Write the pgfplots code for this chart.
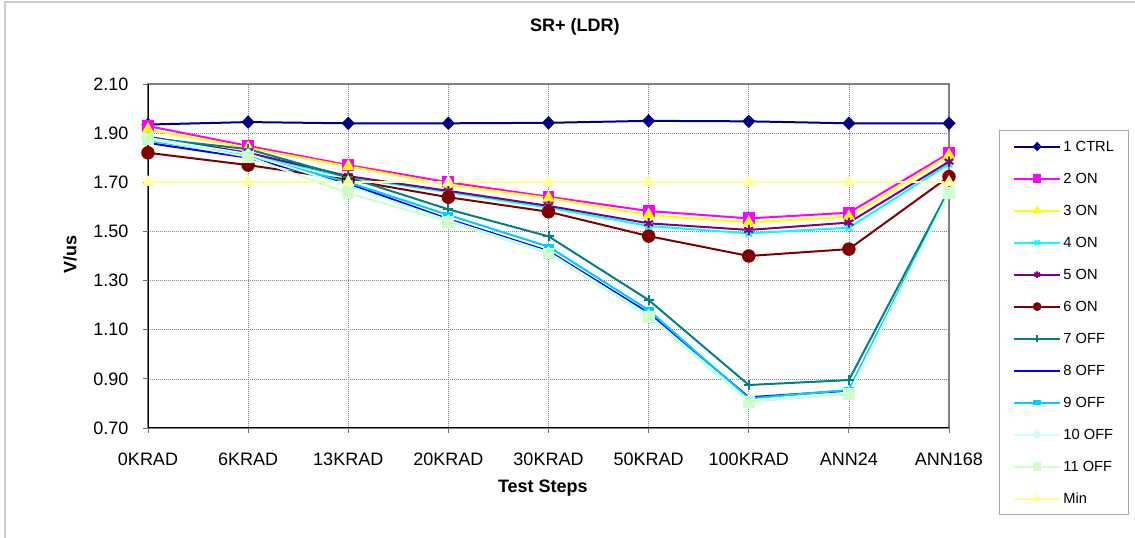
\documentclass[border=0pt]{standalone}
\usepackage{pgfplots}
\pgfplotsset{compat=1.18}
\usepackage{fontspec}
\setmainfont{Liberation Sans}
\definecolor{c1}{HTML}{000080}
\definecolor{c2}{HTML}{FF00FF}
\definecolor{c3}{HTML}{FFFF00}
\definecolor{c4}{HTML}{00FFFF}
\definecolor{c5}{HTML}{800080}
\definecolor{c6}{HTML}{800000}
\definecolor{c7}{HTML}{008080}
\definecolor{c8}{HTML}{0000FF}
\definecolor{c9}{HTML}{00CCFF}
\definecolor{c10}{HTML}{CCFFFF}
\definecolor{c11}{HTML}{CCFFCC}
\definecolor{cmin}{HTML}{FFFF99}
\begin{document}
\begin{tikzpicture}
\path[use as bounding box] (-111pt,-82.5pt) rectangle (740.25pt,321pt);
\draw[color=black!20, line width=1.2pt] (-107.25pt,-82.5pt) -- (-107.25pt,319.5pt) -- (740.25pt,319.5pt);
\begin{axis}[
  at={(0pt,0pt)}, anchor=south west,
  scale only axis, width=600.75pt, height=258pt,
  xmin=0, xmax=8, ymin=0.7, ymax=2.1,
  xtick={0,1,2,3,4,5,6,7,8},
  xticklabels={0KRAD,6KRAD,13KRAD,20KRAD,30KRAD,50KRAD,100KRAD,ANN24,ANN168},
  ytick={0.7,0.9,1.1,1.3,1.5,1.7,1.9,2.1},
  /pgf/number format/assume math mode=true,
  y tick label style={/pgf/number format/fixed, /pgf/number format/fixed zerofill, /pgf/number format/precision=2},
  tick label style={font=\fontsize{13.5}{16}\selectfont},
  xticklabel style={anchor=north, inner sep=0pt, yshift=-15pt},
  yticklabel style={anchor=east, inner sep=0pt, xshift=-11pt},
  tick pos=left, tick align=outside, major tick length=3.5pt,
  tick style={black!55, line width=0.6pt},
  grid=major,
  grid style={black!50, dash pattern=on 0.75pt off 0.75pt, line width=0.5pt},
  axis line style={black!50, line width=1.5pt},
  title={SR+ (LDR)},
  title style={at={(0.533,1.1424)}, anchor=center, inner sep=0pt, font=\bfseries\fontsize{13.5}{16}\selectfont},
  xlabel={Test Steps},
  xlabel style={at={(0.493,-0.174)}, anchor=center, inner sep=0pt, font=\bfseries\fontsize{13.5}{16}\selectfont},
  ylabel={V/us},
  ylabel style={at={(-0.0974,0.503)}, anchor=center, inner sep=0pt, font=\bfseries\fontsize{13.5}{16}\selectfont},
  every axis plot/.append style={line width=1.5pt},
  legend style={font=\fontsize{11}{13}\selectfont, at={(1.0624,0.866)}, anchor=north west,
    draw=black!35, line width=0.75pt, fill=white, inner xsep=10.5pt, inner ysep=6pt,
    row sep=12pt, column sep=2pt,
    nodes={inner sep=0pt, text height=9.9pt, text depth=2.1pt}},
  legend cell align=left,
  legend image code/.code={\draw[mark repeat=2,mark phase=2,#1] plot coordinates {(0pt,0pt) (17pt,0pt) (34pt,0pt)};},
  every legend image post/.style={mark size=2.5pt},
]
\draw[black, line width=1.2pt] (rel axis cs:0,1) -- (rel axis cs:0,0) -- (rel axis cs:1,0);
\addplot[c1, mark=diamond*, mark size=4pt, mark options={solid, fill=c1, xscale=1.3}] coordinates {
(0,1.935) (1,1.945) (2,1.940) (3,1.940) (4,1.942) (5,1.950) (6,1.948) (7,1.940) (8,1.940)};
\addlegendentry{1 CTRL}
\addplot[c2, mark=square*, mark size=3.7pt, mark options={solid, fill=c2}] coordinates {
(0,1.929) (1,1.848) (2,1.770) (3,1.700) (4,1.641) (5,1.583) (6,1.553) (7,1.576) (8,1.818)};
\addlegendentry{2 ON}
\addplot[c3, mark=triangle*, mark size=4pt, mark options={solid, fill=c3}] coordinates {
(0,1.915) (1,1.840) (2,1.765) (3,1.690) (4,1.636) (5,1.567) (6,1.536) (7,1.560) (8,1.810)};
\addlegendentry{3 ON}
\addplot[c4, mark=x, mark size=3.5pt, mark options={solid}] coordinates {
(0,1.875) (1,1.815) (2,1.720) (3,1.660) (4,1.597) (5,1.522) (6,1.492) (7,1.515) (8,1.775)};
\addlegendentry{4 ON}
\addplot[c5, mark=asterisk, mark size=3.8pt, mark options={solid}] coordinates {
(0,1.885) (1,1.820) (2,1.725) (3,1.665) (4,1.604) (5,1.533) (6,1.506) (7,1.536) (8,1.784)};
\addlegendentry{5 ON}
\addplot[c6, mark=*, mark size=4.3pt, mark options={solid, fill=c6}] coordinates {
(0,1.820) (1,1.770) (2,1.710) (3,1.639) (4,1.580) (5,1.481) (6,1.400) (7,1.428) (8,1.723)};
\addlegendentry{6 ON}
\addplot[c7, mark=+, mark size=3.8pt, mark options={solid}] coordinates {
(0,1.880) (1,1.835) (2,1.720) (3,1.590) (4,1.480) (5,1.221) (6,0.875) (7,0.895) (8,1.670)};
\addlegendentry{7 OFF}
\addplot[c8, mark=-, mark size=2.5pt, mark options={solid}] coordinates {
(0,1.860) (1,1.800) (2,1.695) (3,1.550) (4,1.420) (5,1.168) (6,0.825) (7,0.852) (8,1.660)};
\addlegendentry{8 OFF}
\addplot[c9, mark=square*, mark size=3pt, mark options={solid, fill=c9, yscale=0.4}] coordinates {
(0,1.870) (1,1.810) (2,1.700) (3,1.567) (4,1.438) (5,1.180) (6,0.820) (7,0.855) (8,1.660)};
\addlegendentry{9 OFF}
\addplot[c10, mark=diamond*, mark size=3.5pt, mark options={solid, fill=c10, xscale=1.3}] coordinates {
(0,1.880) (1,1.815) (2,1.685) (3,1.545) (4,1.415) (5,1.160) (6,0.812) (7,0.842) (8,1.655)};
\addlegendentry{10 OFF}
\addplot[c11, mark=square*, mark size=3.7pt, mark options={solid, fill=c11}] coordinates {
(0,1.876) (1,1.804) (2,1.655) (3,1.540) (4,1.410) (5,1.153) (6,0.807) (7,0.837) (8,1.656)};
\addlegendentry{11 OFF}
\addplot[cmin, mark=triangle*, mark size=4pt, mark options={solid, fill=cmin}] coordinates {
(0,1.70) (1,1.70) (2,1.70) (3,1.70) (4,1.70) (5,1.70) (6,1.70) (7,1.70) (8,1.70)};
\addlegendentry{Min}
\end{axis}
\end{tikzpicture}
\end{document}
